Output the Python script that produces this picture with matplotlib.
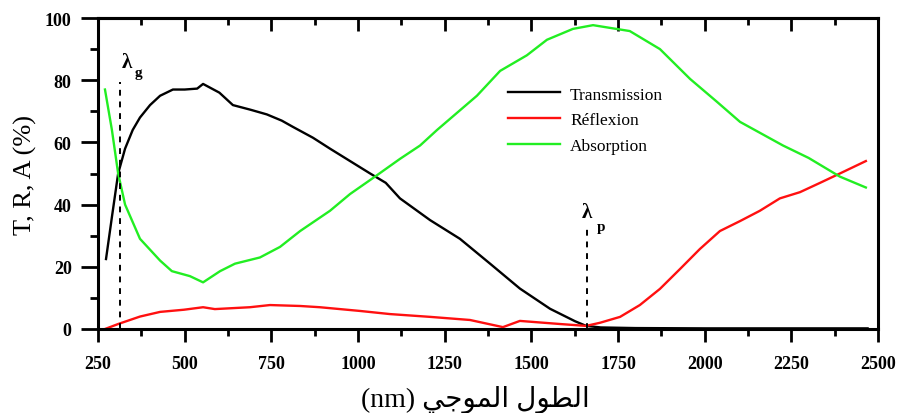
import matplotlib

matplotlib.use("Agg")
import matplotlib.pyplot as plt
from matplotlib.ticker import MultipleLocator

# wavelength (nm) -> percent
trans_nm = [273, 290, 308, 328, 350, 371, 400, 429, 466, 500, 536, 553, 600,
            639, 690, 737, 780, 812, 870, 919, 977, 1035, 1080, 1121, 1208,
            1294, 1381, 1467, 1554, 1626, 1658, 1700, 1800, 2000, 2200, 2470]
trans_pct = [22.5, 36, 50, 58, 64, 68, 72, 75, 77, 77, 77.3, 78.8, 76,
             72, 70.5, 69, 67, 65, 61.5, 58, 54, 50, 47, 42, 35,
             29, 21, 13, 6.5, 2.5, 1, 0.5, 0.3, 0.2, 0.2, 0.2]

refl_nm = [270, 308, 371, 429, 498, 553, 587, 688, 746, 833, 890, 948, 1006,
           1092, 1208, 1323, 1418, 1467, 1583, 1658, 1698, 1756, 1813, 1871,
           1929, 1986, 2044, 2102, 2159, 2217, 2275, 2333, 2390, 2465]
refl_pct = [0, 1.6, 4, 5.5, 6.2, 7, 6.4, 7, 7.7, 7.4, 7, 6.4, 5.8,
            4.8, 3.9, 2.9, 0.6, 2.6, 1.6, 1, 2, 3.9, 7.7, 12.9,
            19.3, 25.7, 31.5, 34.7, 38, 42, 44, 47, 50, 54]

abs_nm = [270, 290, 308, 328, 371, 429, 463, 515, 553, 602, 645, 717, 775,
          833, 919, 977, 1049, 1121, 1179, 1228, 1343, 1410, 1487, 1545,
          1620, 1678, 1784, 1871, 1958, 2036, 2102, 2226, 2300, 2390, 2465]
abs_pct = [77, 64, 50, 40, 29, 22, 18.6, 17, 15, 18.6, 21, 23, 26.4,
           31.5, 38, 43.4, 49, 54.7, 59, 64, 75, 83, 88, 93,
           96.5, 97.7, 95.8, 90, 80.4, 73, 66.6, 59, 55, 49, 45.5]

lambda_g = 312
lambda_p = 1660

SERIF = ["Liberation Serif", "DejaVu Serif"]
# "الطول الموجي (nm)" in shaped presentation forms, visual order
xlabel = "(nm) \uFEF2\uFE9F\uFEEE\uFEE4\uFEDF\uFE8D \uFEDD\uFEEE\uFEC4\uFEDF\uFE8D"

fig = plt.figure(figsize=(8.97, 4.14), dpi=100)
ax = fig.add_axes([0.1093, 0.2029, 0.8695, 0.7512])

ax.plot(trans_nm, trans_pct, color="black", lw=1.7, label="Transmission")
ax.plot(refl_nm, refl_pct, color="#ff1010", lw=1.7, label="Réflexion")
ax.plot(abs_nm, abs_pct, color="#22ee22", lw=1.7, label="Absorption")

ax.plot([lambda_g, lambda_g], [0, 79.5], color="black", lw=1.4, ls=(0, (3, 3)))
ax.plot([lambda_p, lambda_p], [0, 32], color="black", lw=1.4, ls=(0, (3, 3)))
ax.text(334, 86, "λ", fontfamily=SERIF, fontweight="bold", fontsize=15,
        ha="center", va="center")
ax.text(366, 82.5, "g", fontfamily=SERIF, fontweight="bold", fontsize=11,
        ha="center", va="center")
ax.text(1660, 37.6, "λ", fontfamily=SERIF, fontweight="bold", fontsize=15,
        ha="center", va="center")
ax.text(1700, 33, "p", fontfamily=SERIF, fontweight="bold", fontsize=11,
        ha="center", va="center")

ax.set_xlim(250, 2500)
ax.set_ylim(0, 100)
ax.xaxis.set_major_locator(MultipleLocator(250))
ax.xaxis.set_minor_locator(MultipleLocator(125))
ax.yaxis.set_major_locator(MultipleLocator(20))
ax.yaxis.set_minor_locator(MultipleLocator(10))

for side in ax.spines.values():
    side.set_linewidth(2.2)

ax.tick_params(axis="x", which="major", direction="out", length=9, width=2,
               pad=10)
ax.tick_params(axis="x", which="minor", direction="out", length=5, width=2)
ax.tick_params(axis="y", which="major", direction="out", length=12, width=2,
               pad=7)
ax.tick_params(axis="y", which="minor", direction="out", length=6, width=2)
for lab in ax.get_xticklabels() + ax.get_yticklabels():
    lab.set_fontfamily(SERIF)
    lab.set_fontweight("bold")
    lab.set_fontsize(13)

top = ax.secondary_xaxis("top")
top.xaxis.set_major_locator(MultipleLocator(250))
top.xaxis.set_minor_locator(MultipleLocator(125))
top.tick_params(which="major", direction="in", length=9, width=2,
                labeltop=False)
top.tick_params(which="minor", direction="in", length=5, width=2)
top.spines["top"].set_linewidth(2.2)

ax.set_ylabel("T, R, A (%)", fontfamily=SERIF, fontsize=19, labelpad=6)
fig.text(475 / 897, 1 - 400 / 414, xlabel, fontfamily=SERIF + ["DejaVu Sans"],
         fontsize=20, ha="center", va="center")

ax.legend(loc="upper left", bbox_to_anchor=(0.525, 0.78), frameon=False,
          handlelength=3.0, handletextpad=0.6, borderaxespad=0, borderpad=0,
          labelspacing=0.55, prop={"family": SERIF, "size": 12.5})

fig.savefig("out.png", dpi=100)
